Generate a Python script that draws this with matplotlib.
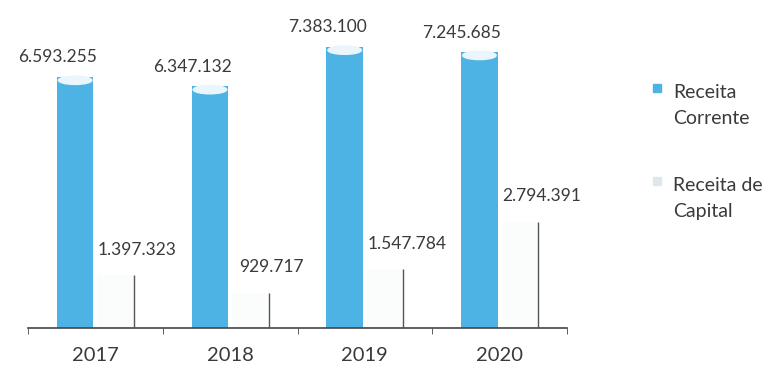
import matplotlib
matplotlib.use("Agg")
import matplotlib.pyplot as plt
from matplotlib.patches import Ellipse, Rectangle
import numpy as np

anos = ["2017", "2018", "2019", "2020"]
receita_corrente = [6593255, 6347132, 7383100, 7245685]
receita_capital = [1397323, 929717, 1547784, 2794391]
rotulos_corrente = ["6.593.255", "6.347.132", "7.383.100", "7.245.685"]
rotulos_capital = ["1.397.323", "929.717", "1.547.784", "2.794.391"]
legenda = ["Receita\nCorrente", "Receita de\nCapital"]

plt.rcParams['font.family'] = ['Lato', 'DejaVu Sans']
azul = "#4db3e4"
cinza = "#3a3a3a"

fig = plt.figure(figsize=(7.72, 3.69), dpi=100)
ax = fig.add_axes([28/772, 41/369, 539/772, 328/369])

x = np.arange(len(anos))
w = 0.27
off = 0.15

# Receita Corrente (cilindros azuis)
ax.bar(x - off, receita_corrente, w, color=azul, edgecolor="none", zorder=2)
for xi, v in zip(x - off, receita_corrente):
    ax.add_patch(Ellipse((xi, v - 0.09e6), w * 0.92, 0.22e6, color="#eaf6fc", zorder=3))

# Receita de Capital (quase branco com aresta escura)
ax.bar(x + off, receita_capital, w, color="#fbfcfc", edgecolor="none", zorder=2)
ax.vlines(x + off + w / 2, 0, receita_capital, color="#555555", lw=1.0, zorder=3)

# rotulos de dados
for xi, v, t in zip(x - off, receita_corrente, rotulos_corrente):
    ax.text(xi - 0.13, v + 0.3e6, t, ha="center", va="bottom", fontsize=12.5, color=cinza)
for xi, v, t in zip(x + off, receita_capital, rotulos_capital):
    ax.text(xi + 0.16, v + 0.45e6, t, ha="center", va="bottom", fontsize=12.5, color=cinza)

ax.set_xlim(-0.5, 3.5)
ax.set_ylim(0, 8.61e6)
ax.set_xticks(x)
ax.set_xticklabels(anos, fontsize=14.5, color=cinza)
ax.set_xticks(np.arange(-0.5, 4, 1), minor=True)
ax.tick_params(axis="x", which="major", length=0, pad=14)
ax.tick_params(axis="x", which="minor", length=4.5, direction="out", color="#444444")
ax.set_yticks([])
for s in ["top", "right", "left"]:
    ax.spines[s].set_visible(False)
ax.spines["bottom"].set_color("#444444")
ax.spines["bottom"].set_linewidth(1.2)
ax.set_facecolor("none")

# legenda
cores_leg = [azul, "#dde8ee"]
for i, (rot, cor) in enumerate(zip(legenda, cores_leg)):
    yb = 96 + i * 93
    fig.add_artist(Rectangle((653/772, 1 - (yb - 4)/369), 8/772, 8/369,
                             transform=fig.transFigure, color=cor))
    # baseline da ultima linha
    fig.text(673/772, 1 - (yb + 28)/369, rot, ha="left", va="baseline",
             fontsize=14, color=cinza, linespacing=1.65)

fig.savefig("out.png", dpi=100)
